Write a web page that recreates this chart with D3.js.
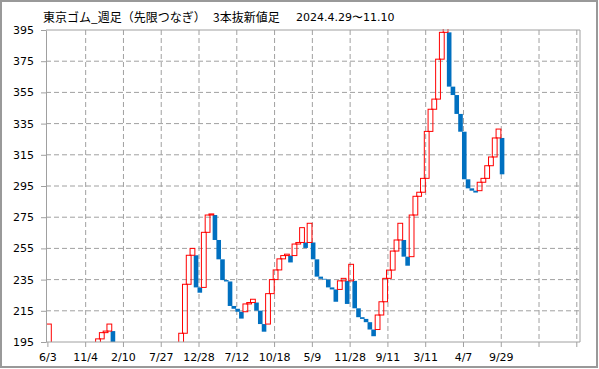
<!DOCTYPE html>
<html>
  <head>
    <meta charset="UTF-8" />
    <style>
      body {
        margin: 0;
        background: #fff;
      }
      .tick text {
        font-family: "DejaVu Sans", sans-serif;
        font-size: 11px;
        fill: #000;
      }
    </style>
  </head>
  <body>
    <svg></svg>
    <script src="https://d3js.org/d3.v7.min.js"></script>
    <script>
      // three-line break bars: open / close for each line (values under 195 fall off the chart)
      const opens = [
        190, 190, 184, 179, 179, 183, 183, 177, 172, 172,
        178, 184, 188, 192, 197, 201, 202, 202, 194, 190,
        190, 190, 183, 178, 174, 174, 179, 179, 175, 170,
        168, 168, 172, 178, 185, 192, 200.6, 232, 250.6, 250.6,
        230, 230, 265.3, 276.4, 276.4, 260.4, 248, 234.7, 233.8, 218.1,
        216.3, 214.4, 214.4, 219.4, 220.3, 220.3, 215.1, 206.5, 206.5, 226,
        235, 241.2, 248.3, 250.4, 250.4, 250.4, 257.8, 258.8, 258.8, 258.8,
        258.8, 248, 236.9, 235.5, 235, 230, 228.7, 228.7, 234.2, 234.2,
        234.2, 234.2, 216.6, 210.9, 209.8, 207.7, 203, 203, 212.3, 220.8,
        235.8, 241.1, 253.3, 260.4, 260.4, 249.7, 249.7, 276.4, 288.4, 291,
        299.9, 330, 344.2, 350.7, 376.3, 393.5, 393.5, 358.7, 353.3, 341.2,
        329.8, 299.3, 293.5, 292, 292, 297.4, 299.9, 308, 313.6, 325.8,
        325.8
      ];
      const closes = [
        206.5, 184, 179, 176, 183, 186, 177, 172, 170, 178,
        184, 188, 192, 197, 201, 202, 206.5, 194, 190, 186,
        193, 183, 178, 174, 171, 179, 181, 175, 170, 168,
        166, 172, 178, 185, 192, 200.6, 232, 250.6, 255, 230,
        226.6, 265.3, 276.4, 277.1, 260.4, 248, 234.7, 233.8, 218.1, 216.3,
        214.4, 210, 219.4, 220.3, 222.4, 215.1, 206.5, 201.6, 226, 235,
        241.2, 248.3, 250.4, 251.3, 246, 257.8, 258.8, 268.3, 255.3, 271.1,
        248, 236.9, 235.5, 235, 230, 228.7, 220.8, 234.2, 235.8, 219.4,
        244.8, 216.6, 210.9, 209.8, 207.7, 203, 198.7, 212.3, 220.8, 235.8,
        241.1, 253.3, 260.4, 271.1, 249.7, 243.9, 276.4, 288.4, 291, 299.9,
        330, 344.2, 350.7, 376.3, 393.5, 399, 358.7, 353.3, 341.2, 329.8,
        299.3, 293.5, 292, 290.8, 297.4, 299.9, 308, 313.6, 325.8, 331.5,
        302.5
      ];
      const tickLabels = ["6/3", "11/4", "2/10", "7/27", "12/28", "7/12", "10/18",
        "5/9", "11/28", "9/11", "3/11", "4/7", "9/29", "", ""];
      const yTicks = [195, 215, 235, 255, 275, 295, 315, 335, 355, 375, 395];
      const slots = 141; // one tick every 10 lines

      let width = 599,
        height = 369;
      let plotLeft = 46, plotRight = 580, plotTop = 30, plotBottom = 342;

      let svg = d3.select("svg").attr("width", width).attr("height", height);

      // outer frame
      svg.append("rect")
        .attr("x", 1).attr("y", 1)
        .attr("width", width - 3).attr("height", height - 3)
        .attr("fill", "#fff")
        .attr("stroke", "#999")
        .attr("stroke-width", 2);

      let x = d3.scaleBand().domain(d3.range(slots)).range([plotLeft, 578.7]).padding(0);
      let y = d3.scaleLinear().domain([195, 395]).range([plotBottom, plotTop]);

      // grid
      let grid = svg.append("g").attr("stroke", "#a0a0a0").attr("stroke-dasharray", "5,3");
      grid.selectAll("line.h")
        .data(yTicks.slice(1, -1))
        .enter()
        .append("line")
        .attr("x1", plotLeft).attr("x2", plotRight)
        .attr("y1", (d) => y(d)).attr("y2", (d) => y(d));
      grid.selectAll("line.v")
        .data(d3.range(10, slots, 10))
        .enter()
        .append("line")
        .attr("x1", (d) => x(d) + x.bandwidth() / 2)
        .attr("x2", (d) => x(d) + x.bandwidth() / 2)
        .attr("y1", plotTop).attr("y2", plotBottom);

      // bars
      svg.append("defs").append("clipPath").attr("id", "plot")
        .append("rect")
        .attr("x", plotLeft).attr("y", plotTop - 1)
        .attr("width", plotRight - plotLeft).attr("height", plotBottom - plotTop + 1);

      let bars = d3.range(opens.length).map((i) => ({ i: i, o: opens[i], c: closes[i] }));
      let g = svg.append("g").attr("clip-path", "url(#plot)");

      g.selectAll("rect.down")
        .data(bars.filter((d) => d.c < d.o))
        .enter()
        .append("rect")
        .attr("class", "down")
        .attr("x", (d) => x(d.i) + 0.4)
        .attr("width", 4.6)
        .attr("y", (d) => y(d.o))
        .attr("height", (d) => y(d.c) - y(d.o))
        .attr("fill", "#0070c0");

      g.selectAll("rect.up")
        .data(bars.filter((d) => d.c >= d.o))
        .enter()
        .append("rect")
        .attr("class", "up")
        .attr("x", (d) => x(d.i) + 0.5)
        .attr("width", 4.8)
        .attr("y", (d) => y(d.c))
        .attr("height", (d) => y(d.o) - y(d.c))
        .attr("fill", "none")
        .attr("stroke", "#ff0000")
        .attr("stroke-width", 1);

      // axes
      svg.append("g")
        .attr("transform", "translate(" + plotLeft + ",0)")
        .call(d3.axisLeft(y).tickValues(yTicks).tickSize(5).tickSizeOuter(0).tickPadding(7));
      let xAxis = svg.append("g")
        .attr("transform", "translate(0," + plotBottom + ")")
        .call(
          d3.axisBottom(x)
            .tickValues(d3.range(0, slots, 10))
            .tickFormat((d) => tickLabels[d / 10])
            .tickSize(5)
            .tickSizeOuter(0)
            .tickPadding(6)
        );
      xAxis.select(".domain").attr("d", "M" + plotLeft + ",0H" + plotRight);
      svg.selectAll(".domain").attr("stroke", "#a0a0a0");
      svg.selectAll(".tick line").attr("stroke", "#a0a0a0");

      // top and right border
      svg.append("path")
        .attr("d", "M" + plotLeft + "," + plotTop + "H" + plotRight + "V" + plotBottom)
        .attr("fill", "none")
        .attr("stroke", "#a0a0a0");

      // title
      let title = svg.append("g")
        .attr("font-family", "'Noto Sans CJK JP', sans-serif")
        .attr("font-size", 12)
        .attr("fill", "#000");
      title.append("text").attr("x", 43).attr("y", 22).text("東京ゴム_週足（先限つなぎ）");
      title.append("text").attr("x", 213).attr("y", 22).text("3本抜新値足");
      title.append("text")
        .attr("x", 296).attr("y", 21)
        .attr("font-family", "'DejaVu Sans', sans-serif")
        .attr("font-size", 11)
        .text("2024.4.29〜11.10");
    </script>
  </body>
</html>
